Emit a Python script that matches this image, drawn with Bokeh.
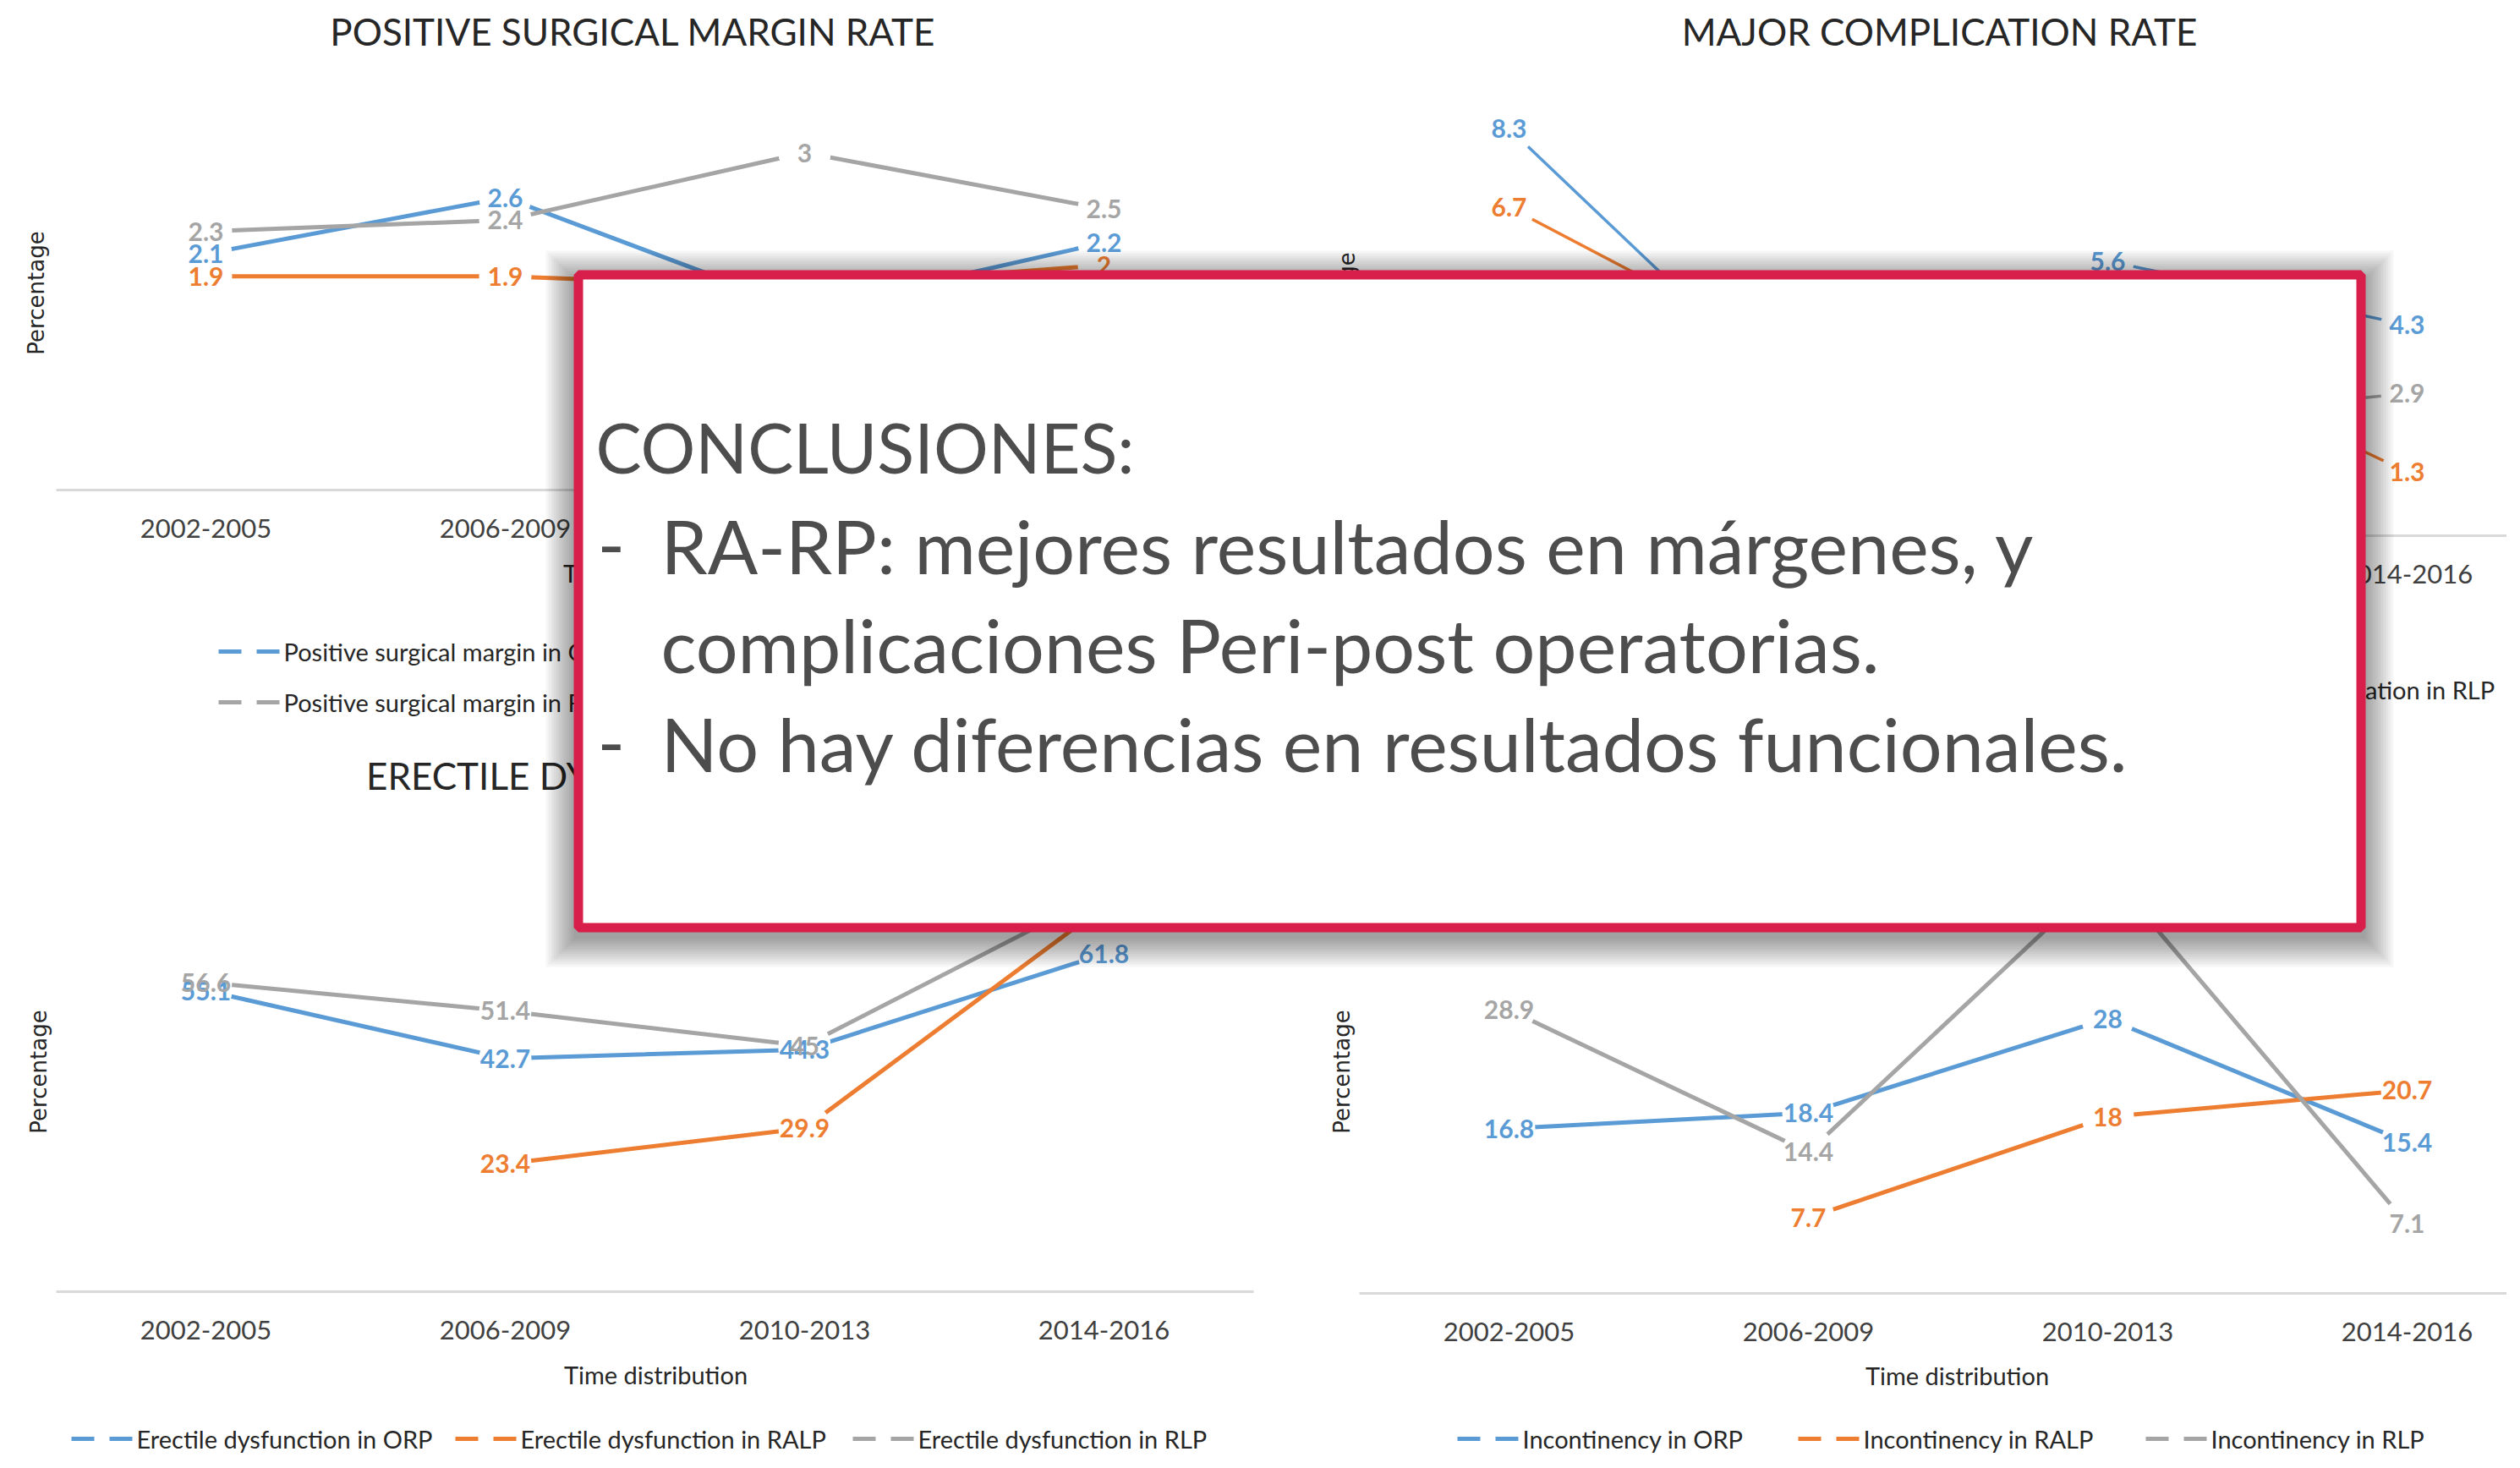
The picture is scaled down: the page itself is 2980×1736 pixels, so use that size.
import math
from bokeh.plotting import figure
from bokeh.models import Range1d
from bokeh.embed import file_html
from bokeh.resources import INLINE
from bokeh.core.properties import value

# ---------------- data ----------------
periods = ["2002-2005", "2006-2009", "2010-2013", "2014-2016"]
techniques = ["ORP", "RALP", "RLP"]
NaN = float("nan")

margin_orp = [2.1, 2.6, 1.6, 2.2]
margin_ralp = [1.9, 1.9, 1.8, 2.0]
margin_rlp = [2.3, 2.4, 3.0, 2.5]

complication_orp = [8.3, 2.5, 5.6, 4.3]
complication_ralp = [6.7, 3.5, 4.2, 1.3]
complication_rlp = [4.6, 3.1, 2.3, 2.9]

erectile_orp = [55.1, 42.7, 44.3, 61.8]
erectile_ralp = [NaN, 23.4, 29.9, 70.6]
erectile_rlp = [56.6, 51.4, 45.0, 73.1]

incontinency_orp = [16.8, 18.4, 28.0, 15.4]
incontinency_ralp = [NaN, 7.7, 18.0, 20.7]
incontinency_rlp = [28.9, 14.4, 43.0, 7.1]

chart_titles = ["POSITIVE SURGICAL MARGIN RATE", "MAJOR COMPLICATION RATE",
                "ERECTILE DYSFUNCTION RATE", "INCONTINENCE RATE"]
legend_prefixes = ["Positive surgical margin in", "Major complication in",
                   "Erectile dysfunction in", "Incontinency in"]
x_title = "Time distribution"
y_title = "Percentage"

conclusion_title = "CONCLUSIONES:"
conclusion_lines = ["RA-RP: mejores resultados en márgenes, y",
                    "complicaciones Peri-post operatorias.",
                    "No hay diferencias en resultados funcionales."]

# ---------------- styles / layout ----------------
COLORS = ["#5B9BD5", "#ED7D31", "#A5A5A5"]
FONT = value("Lato")
W, H = 2964, 1720
X_LO, X_HI = 0, W
Y_TOP, Y_BOT = 0, H

layouts = [
    dict(name="tl", x0=243, dx=354, y0=579, k=133.0, lw=5,
         title=(748, 36), xt=(774, 677), yt=(42, 346),
         legend=[(258, 770), (740, 770), (258, 830)]),
    dict(name="tr", x0=1784, dx=354, y0=633, k=58.0, lw=3.5,
         title=(2293, 36), xt=(2314, 729), yt=(1592, 371),
         legend=[(1720, 815), (2160, 815), (2540, 815)]),
    dict(name="bl", x0=243, dx=354, y0=1527, k=6.46, lw=5,
         title=(748, 916), xt=(775, 1625), yt=(45, 1267),
         legend=[(84, 1701), (538, 1701), (1008, 1701)]),
    dict(name="br", x0=1784, dx=354, y0=1529, k=11.6, lw=5,
         title=(2293, 916), xt=(2314, 1626), yt=(1586, 1267),
         legend=[(1723, 1701), (2126, 1701), (2537, 1701)]),
]
chart_data = [
    [margin_orp, margin_ralp, margin_rlp],
    [complication_orp, complication_ralp, complication_rlp],
    [erectile_orp, erectile_ralp, erectile_rlp],
    [incontinency_orp, incontinency_ralp, incontinency_rlp],
]

p = figure(width=W, height=H, x_range=Range1d(X_LO, X_HI), y_range=Range1d(Y_BOT, Y_TOP),
           output_backend="svg", toolbar_location=None, min_border=0,
           x_axis_location=None, y_axis_location=None,
           outline_line_color=None, background_fill_color="white",
           border_fill_color="white")
p.xgrid.visible = False
p.ygrid.visible = False

idx = list(range(len(periods)))

for lay, data, title, prefix in zip(layouts, chart_data, chart_titles, legend_prefixes):
    n = lay["name"]
    p.extra_x_ranges[n] = Range1d((X_LO - lay["x0"]) / lay["dx"], (X_HI - lay["x0"]) / lay["dx"])
    p.extra_y_ranges[n] = Range1d((lay["y0"] - Y_BOT) / lay["k"], (lay["y0"] - Y_TOP) / lay["k"])
    kw = dict(x_range_name=n, y_range_name=n)

    # horizontal category axis line at zero
    p.line(x=[-0.5, len(periods) - 0.5], y=[0, 0], line_color="#D9D9D9", line_width=3, **kw)
    p.text(x=idx, y=[0] * len(idx), text=periods, y_offset=45, text_align="center",
           text_baseline="middle", text_font=FONT, text_font_size="31px",
           text_color="#404040", **kw)

    for vals, col in zip(data, COLORS):
        p.line(x=idx, y=vals, line_color=col, line_width=lay["lw"], **kw)
        xs = [i for i, v in zip(idx, vals) if not math.isnan(v)]
        ys = [v for v in vals if not math.isnan(v)]
        p.scatter(x=xs, y=ys, size=62, fill_color="white", line_color=None, **kw)
    for vals, col in zip(data, COLORS):
        xs = [i for i, v in zip(idx, vals) if not math.isnan(v)]
        ys = [v for v in vals if not math.isnan(v)]
        p.text(x=xs, y=ys, text=[f"{v:g}" for v in ys], text_align="center",
               text_baseline="middle", text_font=FONT, text_font_size="30px",
               text_font_style="bold", text_color=col, **kw)

    # titles
    p.text(x=[lay["title"][0]], y=[lay["title"][1]], text=[title], text_align="center",
           text_baseline="middle", text_font=FONT, text_font_size="44px", text_color="#262626")
    p.text(x=[lay["xt"][0]], y=[lay["xt"][1]], text=[x_title], text_align="center",
           text_baseline="middle", text_font=FONT, text_font_size="29px", text_color="#262626")
    p.text(x=[lay["yt"][0]], y=[lay["yt"][1]], text=[y_title], angle=math.pi / 2,
           text_align="center", text_baseline="middle", text_font=value("DejaVu Sans"),
           text_font_size="26px", text_color="#262626")

    # legend
    for (lx, ly), col, tech in zip(lay["legend"], COLORS, techniques):
        p.line(x=[lx, lx + 72], y=[ly, ly], line_color=col, line_width=5, line_dash="27 18")
        p.text(x=[lx + 77], y=[ly], text=[f"{prefix} {tech}"], text_align="left",
               text_baseline="middle", text_font=FONT, text_font_size="29px",
               text_color="#262626")

# ---------------- overlay box with shadow ----------------
BOX = (678, 2797, 319, 1102)  # left, right, top, bottom (page pixels)
for i in range(12):
    g = 3 * i
    p.quad(left=[BOX[0] - g], right=[BOX[1] + g], top=[BOX[2] - g + 10], bottom=[BOX[3] + g + 8],
           fill_color="black", fill_alpha=0.035, line_color=None, level="annotation")
bw = 11
p.quad(left=[BOX[0] + bw / 2], right=[BOX[1] - bw / 2], top=[BOX[2] + bw / 2],
       bottom=[BOX[3] - bw / 2], fill_color="white", line_color="#D81E4A", line_width=bw,
       level="annotation")

TXT = dict(text_font=FONT, text_color="#4D4D4D",
           text_baseline="alphabetic", text_align="left", level="overlay")
p.text(x=[704], y=[528], text=[conclusion_title], text_font_size="81px", **TXT)
p.text(x=[706, 706], y=[644, 878], text=["-", "-"], text_font_size="88px", **TXT)
p.text(x=[781, 781, 781], y=[644, 761, 878], text=conclusion_lines, text_font_size="88px", **TXT)

open("out.html", "w").write(file_html(p, INLINE))
